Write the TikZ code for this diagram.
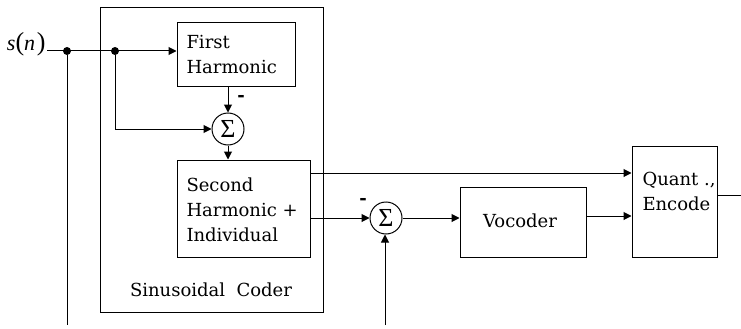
\documentclass[tikz,border=0pt]{standalone}
\usepackage{fontspec}
\setmainfont{DejaVu Serif}
\newfontfamily\tms{Liberation Serif}
\usetikzlibrary{arrows.meta}
\begin{document}
\begin{tikzpicture}[x=1pt,y=-1pt,
  every path/.style={line width=1pt},
  arr/.style={-{Triangle[length=8pt,width=8pt]}},
  blk/.style={draw,line width=1pt,inner sep=0pt},
  sumc/.style={draw,circle,minimum size=32pt,inner sep=0pt,line width=1pt,font=\tms\fontsize{26}{26}\selectfont},
  txt/.style={font=\fontsize{18}{25}\selectfont,inner sep=0pt},
  dot/.style={fill,circle,inner sep=0pt,minimum size=8pt},
  minus/.style={font=\fontsize{18}{18}\selectfont\bfseries,inner sep=0pt}]
\useasboundingbox (0,0) rectangle (741,329);
% outer box
\node[draw,line width=1pt,minimum width=223pt,minimum height=304pt,inner sep=0pt] (sc) at (211.5,160) {};
\node[txt] (sclab) at (211,290) {Sinusoidal\ \ Coder};
% blocks
\node[blk,minimum width=118pt,minimum height=63pt] (fh) at (236,54.5) {};
\node[txt,anchor=west,align=left] (fhtxt) at (186,54.5) {First\\Harmonic};
\node[blk,minimum width=133pt,minimum height=97pt] (sh) at (243.5,208.5) {};
\node[txt,anchor=west,align=left] (shtxt) at (186,210) {Second\\Harmonic +\\Individual};
\node[blk,minimum width=126pt,minimum height=70pt] (voc) at (523,222) {};
\node[txt] (voctxt) at (520,221) {Vocoder};
\node[blk,minimum width=85pt,minimum height=111pt] (q) at (674.5,201.5) {};
\node[txt,anchor=west,align=left] (qtxt) at (642,191) {Quant .,\\Encode};
% sums
\node[sumc] (s1) at (228,129) {Σ};
\node[sumc] (s2) at (386,218) {Σ};
\node[minus] (m1) at (241,98) {-};
\node[minus] (m2) at (363,201) {-};
% input
\node[inner sep=0pt,anchor=east] (sn) at (46,44) {{\tms\fontsize{22}{22}\selectfont\itshape s}{\tms\fontsize{26}{26}\selectfont(}{\tms\fontsize{22}{22}\selectfont\itshape n}\,{\tms\fontsize{26}{26}\selectfont)}};
\coordinate (in) at (47,51);
\coordinate (d1) at (67,51);
\coordinate (d2) at (115,51);
\coordinate (b1) at (67,325);
\coordinate (b2) at (385,325);
\coordinate (out) at (741,195);
\draw[arr] (in) -- (in -| fh.west);
\node[dot] (dd1) at (d1) {};
\node[dot] (dd2) at (d2) {};
\draw (dd1) -- (b1);
\draw[arr] (dd2) -- (dd2 |- s1) -- (s1.west);
\draw[arr] (s1 |- fh.south) -- (s1.north);
\draw[arr] (s1.south) -- (s1 |- sh.north);
\draw[arr] ([yshift=35.5pt]sh.east) -- ([yshift=35.5pt]sh.east -| q.west);
\draw[arr] (sh.east |- s2) -- (s2.west);
\draw[arr] (b2) -- (b2 |- s2.south);
\draw[arr] (s2.east) -- (s2.east -| voc.west);
\draw[arr] ([yshift=6pt]voc.east) -- ([yshift=6pt]voc.east -| q.west);
\draw ([yshift=6.5pt]q.east) -- (out);
\end{tikzpicture}
\end{document}
